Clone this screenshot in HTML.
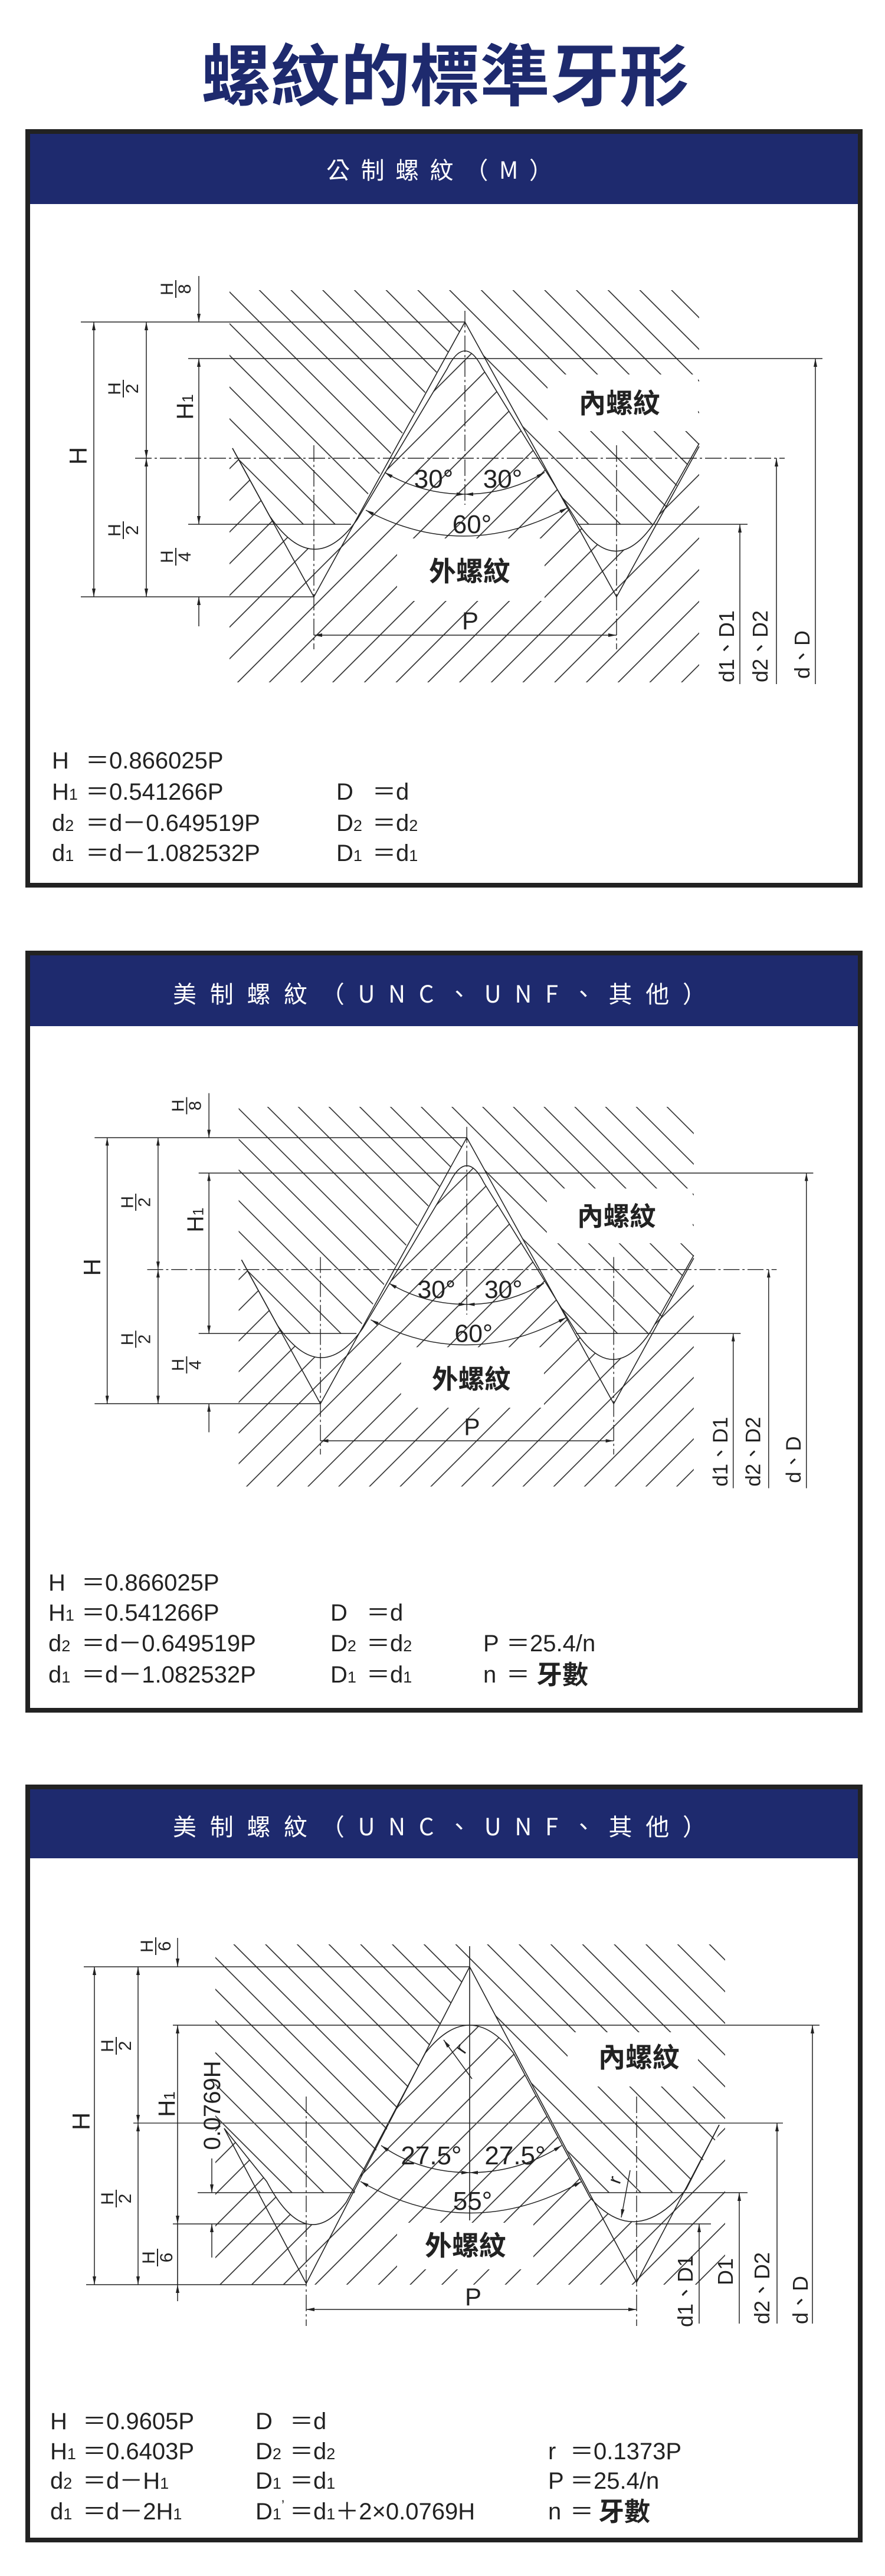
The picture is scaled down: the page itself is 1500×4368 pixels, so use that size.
<!DOCTYPE html>
<html><head><meta charset="utf-8"><style>
html,body{margin:0;padding:0;background:#fff;}
svg{display:block;}
text{font-family:"Liberation Sans","Noto Sans CJK TC",sans-serif;fill:#222;}
.cj{font-family:"Noto Sans CJK TC","WenQuanYi Zen Hei",sans-serif;}
.ln{stroke:#222;stroke-width:1.6;fill:none;}
.dd{stroke:#222;stroke-width:1.4;fill:none;stroke-dasharray:28 5 4 5;}
.dm{stroke:#222;stroke-width:1.5;fill:none;marker-end:url(#ar);}
.db{stroke:#222;stroke-width:1.5;fill:none;marker-end:url(#ar);marker-start:url(#ar);}
.f{font-size:40px;}
.s{font-size:27px;}
</style></head><body>
<svg width="1500" height="4368" viewBox="0 0 1500 4368" xmlns="http://www.w3.org/2000/svg">
<defs>
<marker id="ar" viewBox="0 0 14 6" refX="14" refY="3" markerWidth="14" markerHeight="6" markerUnits="userSpaceOnUse" orient="auto-start-reverse"><path d="M0,0 L14,3 L0,6 z" fill="#222"/></marker>
<pattern id="hb" patternUnits="userSpaceOnUse" width="38" height="38" patternTransform="rotate(-45)"><line x1="1" y1="0" x2="1" y2="38" stroke="#222" stroke-width="1.6"/></pattern>
<pattern id="hf" patternUnits="userSpaceOnUse" width="38" height="38" patternTransform="rotate(45)"><line x1="1" y1="0" x2="1" y2="38" stroke="#222" stroke-width="1.6"/></pattern>
</defs>

<!-- Title -->
<text x="341" y="170" class="cj" font-size="114" font-weight="bold" textLength="827" lengthAdjust="spacingAndGlyphs" style="fill:#1e2a6e">螺紋的標準牙形</text>

<!-- ===== Panel 1 ===== -->
<rect x="47" y="223" width="1411" height="1278" fill="#fff" stroke="#222" stroke-width="8"/>
<rect x="51" y="227" width="1403" height="119" fill="#1e2a6e"/>
<text x="553" y="303" class="cj" font-size="40" textLength="384" lengthAdjust="spacing" style="fill:#fff">公制螺紋（M）</text>

<g id="d1">
<path d="M389,492 H1185 V752 L1112,889 H979 L788,546 L595,889 H464 L394,760 L389,752 Z" fill="url(#hb)"/>
<path d="M389,1157 H1185 V752 L1110,885 Q1045,982 981,889 L818,625 Q788,565 758,625 L606,880 Q532,985 457,875 L394,760 L389,752 Z" fill="url(#hf)"/>
<rect x="928" y="635" width="255" height="96" fill="#fff"/>
<rect x="673" y="913" width="250" height="106" fill="#fff"/>
<path class="ln" d="M1185,752 L1110,885 Q1045,982 981,889 L818,625 Q788,565 758,625 L606,880 Q532,985 457,875 L394,760"/>
<path class="ln" d="M394,760 L532,1012 L788,546 L1045,1012 L1185,757"/>
<line class="ln" x1="137" y1="546" x2="788" y2="546"/>
<line class="ln" x1="319" y1="608" x2="1394" y2="608"/>
<line class="dd" x1="229" y1="777" x2="1330" y2="777"/>
<line class="ln" x1="319" y1="889" x2="595" y2="889"/>
<line class="ln" x1="979" y1="889" x2="1267" y2="889"/>
<line class="ln" x1="137" y1="1012" x2="532" y2="1012"/>
<line class="dd" x1="788" y1="527" x2="788" y2="856"/>
<line class="dd" x1="532" y1="755" x2="532" y2="1101"/>
<line class="dd" x1="1045" y1="755" x2="1045" y2="1101"/>
<line class="db" x1="159" y1="546" x2="159" y2="1012"/>
<line class="db" x1="248" y1="546" x2="248" y2="777"/>
<line class="db" x1="248" y1="777" x2="248" y2="1012"/>
<line class="dm" x1="337" y1="468" x2="337" y2="546"/>
<line class="db" x1="337" y1="608" x2="337" y2="889"/>
<line class="dm" x1="337" y1="1062" x2="337" y2="1012"/>
<line class="dm" x1="1382" y1="1160" x2="1382" y2="608"/>
<line class="dm" x1="1316" y1="1160" x2="1316" y2="777"/>
<line class="dm" x1="1254" y1="1160" x2="1254" y2="889"/>
<line class="db" x1="532" y1="1077" x2="1045" y2="1077"/>
<path class="db" d="M652,801 Q715,838 788,838"/>
<path class="db" d="M923,801 Q861,838 788,838"/>
<path class="db" d="M620,865 Q788,955 962,861"/>
<text x="735" y="827" font-size="44" text-anchor="middle">30°</text>
<text x="852" y="827" font-size="44" text-anchor="middle">30°</text>
<text x="800" y="904" font-size="44" text-anchor="middle">60°</text>
<text x="1050" y="700" class="cj" font-size="46" font-weight="bold" text-anchor="middle">內螺紋</text>
<text x="796" y="985" class="cj" font-size="46" font-weight="bold" text-anchor="middle">外螺紋</text>
<text x="797" y="1067" font-size="42" text-anchor="middle">P</text>
<text transform="translate(147,773) rotate(-90)" font-size="42" text-anchor="middle">H</text>
<g transform="translate(209,659) rotate(-90)"><text y="-5" font-size="30" text-anchor="middle">H</text><line x1="-15" y1="0" x2="15" y2="0" stroke="#222" stroke-width="2"/><text y="25" font-size="30" text-anchor="middle">2</text></g>
<g transform="translate(209,899) rotate(-90)"><text y="-5" font-size="30" text-anchor="middle">H</text><line x1="-15" y1="0" x2="15" y2="0" stroke="#222" stroke-width="2"/><text y="25" font-size="30" text-anchor="middle">2</text></g>
<g transform="translate(298,490) rotate(-90)"><text y="-5" font-size="30" text-anchor="middle">H</text><line x1="-15" y1="0" x2="15" y2="0" stroke="#222" stroke-width="2"/><text y="25" font-size="30" text-anchor="middle">8</text></g>
<g transform="translate(298,944) rotate(-90)"><text y="-5" font-size="30" text-anchor="middle">H</text><line x1="-15" y1="0" x2="15" y2="0" stroke="#222" stroke-width="2"/><text y="25" font-size="30" text-anchor="middle">4</text></g>
<text transform="translate(327,690) rotate(-90)" font-size="40" text-anchor="middle">H<tspan font-size="26">1</tspan></text>
<text transform="translate(1244,1096) rotate(-90)" font-size="36" text-anchor="middle">d1、D1</text>
<text transform="translate(1301,1096) rotate(-90)" font-size="36" text-anchor="middle">d2、D2</text>
<text transform="translate(1372,1110) rotate(-90)" font-size="36" text-anchor="middle">d、D</text>
</g>

<text class="f" x="88" y="1303">H</text><text class="f" x="145" y="1303">＝0.866025P</text>
<text class="f" x="88" y="1356">H<tspan class="s">1</tspan></text><text class="f" x="145" y="1356">＝0.541266P</text>
<text class="f" x="88" y="1409">d<tspan class="s">2</tspan></text><text class="f" x="145" y="1409">＝d－0.649519P</text>
<text class="f" x="88" y="1460">d<tspan class="s">1</tspan></text><text class="f" x="145" y="1460">＝d－1.082532P</text>
<text class="f" x="570" y="1356">D</text><text class="f" x="631" y="1356">＝d</text>
<text class="f" x="570" y="1409">D<tspan class="s">2</tspan></text><text class="f" x="631" y="1409">＝d<tspan class="s">2</tspan></text>
<text class="f" x="570" y="1460">D<tspan class="s">1</tspan></text><text class="f" x="631" y="1460">＝d<tspan class="s">1</tspan></text>

<!-- ===== Panel 2 ===== -->
<rect x="47" y="1616" width="1411" height="1284" fill="#fff" stroke="#222" stroke-width="8"/>
<rect x="51" y="1620" width="1403" height="120" fill="#1e2a6e"/>
<text x="293" y="1700" class="cj" font-size="40" textLength="904" lengthAdjust="spacing" style="fill:#fff">美制螺紋（UNC、UNF、其他）</text>

<g transform="matrix(0.969,0,0,0.968,27.6,1400.6)">
<path d="M389,492 H1185 V752 L1112,889 H979 L788,546 L595,889 H464 L394,760 L389,752 Z" fill="url(#hb)"/>
<path d="M389,1157 H1185 V752 L1110,885 Q1045,982 981,889 L818,625 Q788,565 758,625 L606,880 Q532,985 457,875 L394,760 L389,752 Z" fill="url(#hf)"/>
<rect x="928" y="635" width="255" height="96" fill="#fff"/>
<rect x="673" y="913" width="250" height="106" fill="#fff"/>
<path class="ln" d="M1185,752 L1110,885 Q1045,982 981,889 L818,625 Q788,565 758,625 L606,880 Q532,985 457,875 L394,760"/>
<path class="ln" d="M394,760 L532,1012 L788,546 L1045,1012 L1185,757"/>
<line class="ln" x1="137" y1="546" x2="788" y2="546"/>
<line class="ln" x1="319" y1="608" x2="1394" y2="608"/>
<line class="dd" x1="229" y1="777" x2="1330" y2="777"/>
<line class="ln" x1="319" y1="889" x2="595" y2="889"/>
<line class="ln" x1="979" y1="889" x2="1267" y2="889"/>
<line class="ln" x1="137" y1="1012" x2="532" y2="1012"/>
<line class="dd" x1="788" y1="527" x2="788" y2="856"/>
<line class="dd" x1="532" y1="755" x2="532" y2="1101"/>
<line class="dd" x1="1045" y1="755" x2="1045" y2="1101"/>
<line class="db" x1="159" y1="546" x2="159" y2="1012"/>
<line class="db" x1="248" y1="546" x2="248" y2="777"/>
<line class="db" x1="248" y1="777" x2="248" y2="1012"/>
<line class="dm" x1="337" y1="468" x2="337" y2="546"/>
<line class="db" x1="337" y1="608" x2="337" y2="889"/>
<line class="dm" x1="337" y1="1062" x2="337" y2="1012"/>
<line class="dm" x1="1382" y1="1160" x2="1382" y2="608"/>
<line class="dm" x1="1316" y1="1160" x2="1316" y2="777"/>
<line class="dm" x1="1254" y1="1160" x2="1254" y2="889"/>
<line class="db" x1="532" y1="1077" x2="1045" y2="1077"/>
<path class="db" d="M652,801 Q715,838 788,838"/>
<path class="db" d="M923,801 Q861,838 788,838"/>
<path class="db" d="M620,865 Q788,955 962,861"/>
<text x="735" y="827" font-size="44" text-anchor="middle">30°</text>
<text x="852" y="827" font-size="44" text-anchor="middle">30°</text>
<text x="800" y="904" font-size="44" text-anchor="middle">60°</text>
<text x="1050" y="700" class="cj" font-size="46" font-weight="bold" text-anchor="middle">內螺紋</text>
<text x="796" y="985" class="cj" font-size="46" font-weight="bold" text-anchor="middle">外螺紋</text>
<text x="797" y="1067" font-size="42" text-anchor="middle">P</text>
<text transform="translate(147,773) rotate(-90)" font-size="42" text-anchor="middle">H</text>
<g transform="translate(209,659) rotate(-90)"><text y="-5" font-size="30" text-anchor="middle">H</text><line x1="-15" y1="0" x2="15" y2="0" stroke="#222" stroke-width="2"/><text y="25" font-size="30" text-anchor="middle">2</text></g>
<g transform="translate(209,899) rotate(-90)"><text y="-5" font-size="30" text-anchor="middle">H</text><line x1="-15" y1="0" x2="15" y2="0" stroke="#222" stroke-width="2"/><text y="25" font-size="30" text-anchor="middle">2</text></g>
<g transform="translate(298,490) rotate(-90)"><text y="-5" font-size="30" text-anchor="middle">H</text><line x1="-15" y1="0" x2="15" y2="0" stroke="#222" stroke-width="2"/><text y="25" font-size="30" text-anchor="middle">8</text></g>
<g transform="translate(298,944) rotate(-90)"><text y="-5" font-size="30" text-anchor="middle">H</text><line x1="-15" y1="0" x2="15" y2="0" stroke="#222" stroke-width="2"/><text y="25" font-size="30" text-anchor="middle">4</text></g>
<text transform="translate(327,690) rotate(-90)" font-size="40" text-anchor="middle">H<tspan font-size="26">1</tspan></text>
<text transform="translate(1244,1096) rotate(-90)" font-size="36" text-anchor="middle">d1、D1</text>
<text transform="translate(1301,1096) rotate(-90)" font-size="36" text-anchor="middle">d2、D2</text>
<text transform="translate(1372,1110) rotate(-90)" font-size="36" text-anchor="middle">d、D</text>
</g>

<text class="f" x="82" y="2697">H</text><text class="f" x="138" y="2697">＝0.866025P</text>
<text class="f" x="82" y="2748">H<tspan class="s">1</tspan></text><text class="f" x="138" y="2748">＝0.541266P</text>
<text class="f" x="82" y="2800">d<tspan class="s">2</tspan></text><text class="f" x="138" y="2800">＝d－0.649519P</text>
<text class="f" x="82" y="2853">d<tspan class="s">1</tspan></text><text class="f" x="138" y="2853">＝d－1.082532P</text>
<text class="f" x="560" y="2748">D</text><text class="f" x="621" y="2748">＝d</text>
<text class="f" x="560" y="2800">D<tspan class="s">2</tspan></text><text class="f" x="621" y="2800">＝d<tspan class="s">2</tspan></text>
<text class="f" x="560" y="2853">D<tspan class="s">1</tspan></text><text class="f" x="621" y="2853">＝d<tspan class="s">1</tspan></text>
<text class="f" x="819" y="2800">P</text><text class="f" x="858" y="2800">＝25.4/n</text>
<text class="f" x="819" y="2853">n</text><text class="f" x="858" y="2853">＝</text><text x="909" y="2855" class="cj" font-size="44" font-weight="bold">牙數</text>

<!-- ===== Panel 3 ===== -->
<rect x="47" y="3030" width="1411" height="1277" fill="#fff" stroke="#222" stroke-width="8"/>
<rect x="51" y="3034" width="1403" height="117" fill="#1e2a6e"/>
<text x="293" y="3112" class="cj" font-size="40" textLength="904" lengthAdjust="spacing" style="fill:#fff">美制螺紋（UNC、UNF、其他）</text>

<path d="M365,3297 H1229 V3600 L1159,3718 H1000 L796,3335 L601,3718 H440 L380,3609 L365,3600 Z" fill="url(#hb)"/>
<path d="M365,3874 H1229 V3600 L1163,3712 Q1077,3815 1000,3726 L870,3481 Q796,3387 721,3481 L587,3734 Q519,3825 452,3699 L380,3609 L365,3600 Z" fill="url(#hf)"/>
<rect x="962" y="3446" width="221" height="92" fill="#fff"/>
<rect x="673" y="3769" width="231" height="79" fill="#fff"/>
<path class="ln" d="M1219,3603 L1163,3712 Q1077,3815 1000,3726 L870,3481 Q796,3387 721,3481 L587,3734 Q519,3825 452,3699 L380,3609"/>
<path class="ln" d="M380,3609 L519,3872 L796,3335 L1079,3870 L1219,3603"/>
<line class="ln" x1="142" y1="3335" x2="796" y2="3335"/>
<line class="ln" x1="293" y1="3434" x2="1389" y2="3434"/>
<line x1="226" y1="3600" x2="1327" y2="3600" stroke="#555" stroke-width="1.8"/>
<line class="ln" x1="335" y1="3718" x2="601" y2="3718"/>
<line class="ln" x1="1000" y1="3718" x2="1267" y2="3718"/>
<line class="ln" x1="293" y1="3771" x2="519" y2="3771"/>
<line class="ln" x1="1077" y1="3771" x2="1205" y2="3771"/>
<line class="ln" x1="146" y1="3874" x2="519" y2="3874"/>
<line class="ln" x1="796" y1="3300" x2="796" y2="3765"/>
<line class="dd" x1="519" y1="3555" x2="519" y2="3944"/>
<line class="dd" x1="1079" y1="3555" x2="1079" y2="3944"/>
<line class="db" x1="160" y1="3335" x2="160" y2="3874"/>
<line class="db" x1="234" y1="3335" x2="234" y2="3600"/>
<line class="db" x1="234" y1="3600" x2="234" y2="3874"/>
<line class="dm" x1="301" y1="3286" x2="301" y2="3335"/>
<line class="db" x1="301" y1="3434" x2="301" y2="3771"/>
<line class="ln" x1="301" y1="3771" x2="301" y2="3874"/>
<line class="dm" x1="301" y1="3902" x2="301" y2="3874"/>
<line class="dm" x1="359" y1="3660" x2="359" y2="3718"/>
<line class="dm" x1="359" y1="3828" x2="359" y2="3771"/>
<line class="dm" x1="1377" y1="3940" x2="1377" y2="3434"/>
<line class="dm" x1="1317" y1="3940" x2="1317" y2="3600"/>
<line class="dm" x1="1253" y1="3940" x2="1253" y2="3718"/>
<line class="dm" x1="1185" y1="3940" x2="1185" y2="3771"/>
<line class="db" x1="519" y1="3916" x2="1079" y2="3916"/>
<path class="db" d="M646,3638 Q712,3684 796,3684"/>
<path class="db" d="M952,3638 Q880,3684 796,3684"/>
<path class="db" d="M611,3699 Q796,3806 986,3699"/>
<line class="dm" x1="800" y1="3525" x2="752" y2="3459"/>
<line class="dm" x1="1068" y1="3680" x2="1053" y2="3760"/>
<text transform="translate(790,3480) rotate(-55)" font-size="32" text-anchor="middle">r</text>
<text transform="translate(1052,3700) rotate(-70)" font-size="32" text-anchor="middle">r</text>
<text x="731" y="3670" font-size="44" text-anchor="middle">27.5°</text>
<text x="873" y="3670" font-size="44" text-anchor="middle">27.5°</text>
<text x="801" y="3747" font-size="44" text-anchor="middle">55°</text>
<text x="1083" y="3505" class="cj" font-size="46" font-weight="bold" text-anchor="middle">內螺紋</text>
<text x="789" y="3824" class="cj" font-size="46" font-weight="bold" text-anchor="middle">外螺紋</text>
<text x="802" y="3909" font-size="42" text-anchor="middle">P</text>
<text transform="translate(152,3597) rotate(-90)" font-size="42" text-anchor="middle">H</text>
<g transform="translate(197,3469) rotate(-90)"><text y="-5" font-size="30" text-anchor="middle">H</text><line x1="-15" y1="0" x2="15" y2="0" stroke="#222" stroke-width="2"/><text y="25" font-size="30" text-anchor="middle">2</text></g>
<g transform="translate(197,3728) rotate(-90)"><text y="-5" font-size="30" text-anchor="middle">H</text><line x1="-15" y1="0" x2="15" y2="0" stroke="#222" stroke-width="2"/><text y="25" font-size="30" text-anchor="middle">2</text></g>
<g transform="translate(264,3300) rotate(-90)"><text y="-5" font-size="30" text-anchor="middle">H</text><line x1="-15" y1="0" x2="15" y2="0" stroke="#222" stroke-width="2"/><text y="25" font-size="30" text-anchor="middle">6</text></g>
<g transform="translate(267,3828) rotate(-90)"><text y="-5" font-size="30" text-anchor="middle">H</text><line x1="-15" y1="0" x2="15" y2="0" stroke="#222" stroke-width="2"/><text y="25" font-size="30" text-anchor="middle">6</text></g>
<text transform="translate(296,3568) rotate(-90)" font-size="40" text-anchor="middle">H<tspan font-size="26">1</tspan></text>
<text transform="translate(373,3570) rotate(-90)" font-size="40" text-anchor="middle">0.0769H</text>
<text transform="translate(1174,3885) rotate(-90)" font-size="36" text-anchor="middle">d1、D1</text>
<text transform="translate(1242,3852) rotate(-90)" font-size="36" text-anchor="middle">D1</text>
<text transform="translate(1304,3880) rotate(-90)" font-size="36" text-anchor="middle">d2、D2</text>
<text transform="translate(1369,3900) rotate(-90)" font-size="36" text-anchor="middle">d、D</text>

<text class="f" x="85" y="4119">H</text><text class="f" x="140" y="4119">＝0.9605P</text>
<text class="f" x="85" y="4170">H<tspan class="s">1</tspan></text><text class="f" x="140" y="4170">＝0.6403P</text>
<text class="f" x="85" y="4220">d<tspan class="s">2</tspan></text><text class="f" x="140" y="4220">＝d－H<tspan class="s">1</tspan></text>
<text class="f" x="85" y="4272">d<tspan class="s">1</tspan></text><text class="f" x="140" y="4272">＝d－2H<tspan class="s">1</tspan></text>
<text class="f" x="433" y="4119">D</text><text class="f" x="491" y="4119">＝d</text>
<text class="f" x="433" y="4170">D<tspan class="s">2</tspan></text><text class="f" x="491" y="4170">＝d<tspan class="s">2</tspan></text>
<text class="f" x="433" y="4220">D<tspan class="s">1</tspan></text><text class="f" x="491" y="4220">＝d<tspan class="s">1</tspan></text>
<text class="f" x="433" y="4272">D<tspan class="s">1</tspan><tspan dy="-16" font-size="24">’</tspan></text><text class="f" x="491" y="4272">＝d<tspan class="s">1</tspan>＋2×0.0769H</text>
<text class="f" x="929" y="4170">r</text><text class="f" x="966" y="4170">＝0.1373P</text>
<text class="f" x="929" y="4220">P</text><text class="f" x="966" y="4220">＝25.4/n</text>
<text class="f" x="929" y="4272">n</text><text class="f" x="966" y="4272">＝</text><text x="1014" y="4274" class="cj" font-size="44" font-weight="bold">牙數</text>
</svg>
</body></html>
